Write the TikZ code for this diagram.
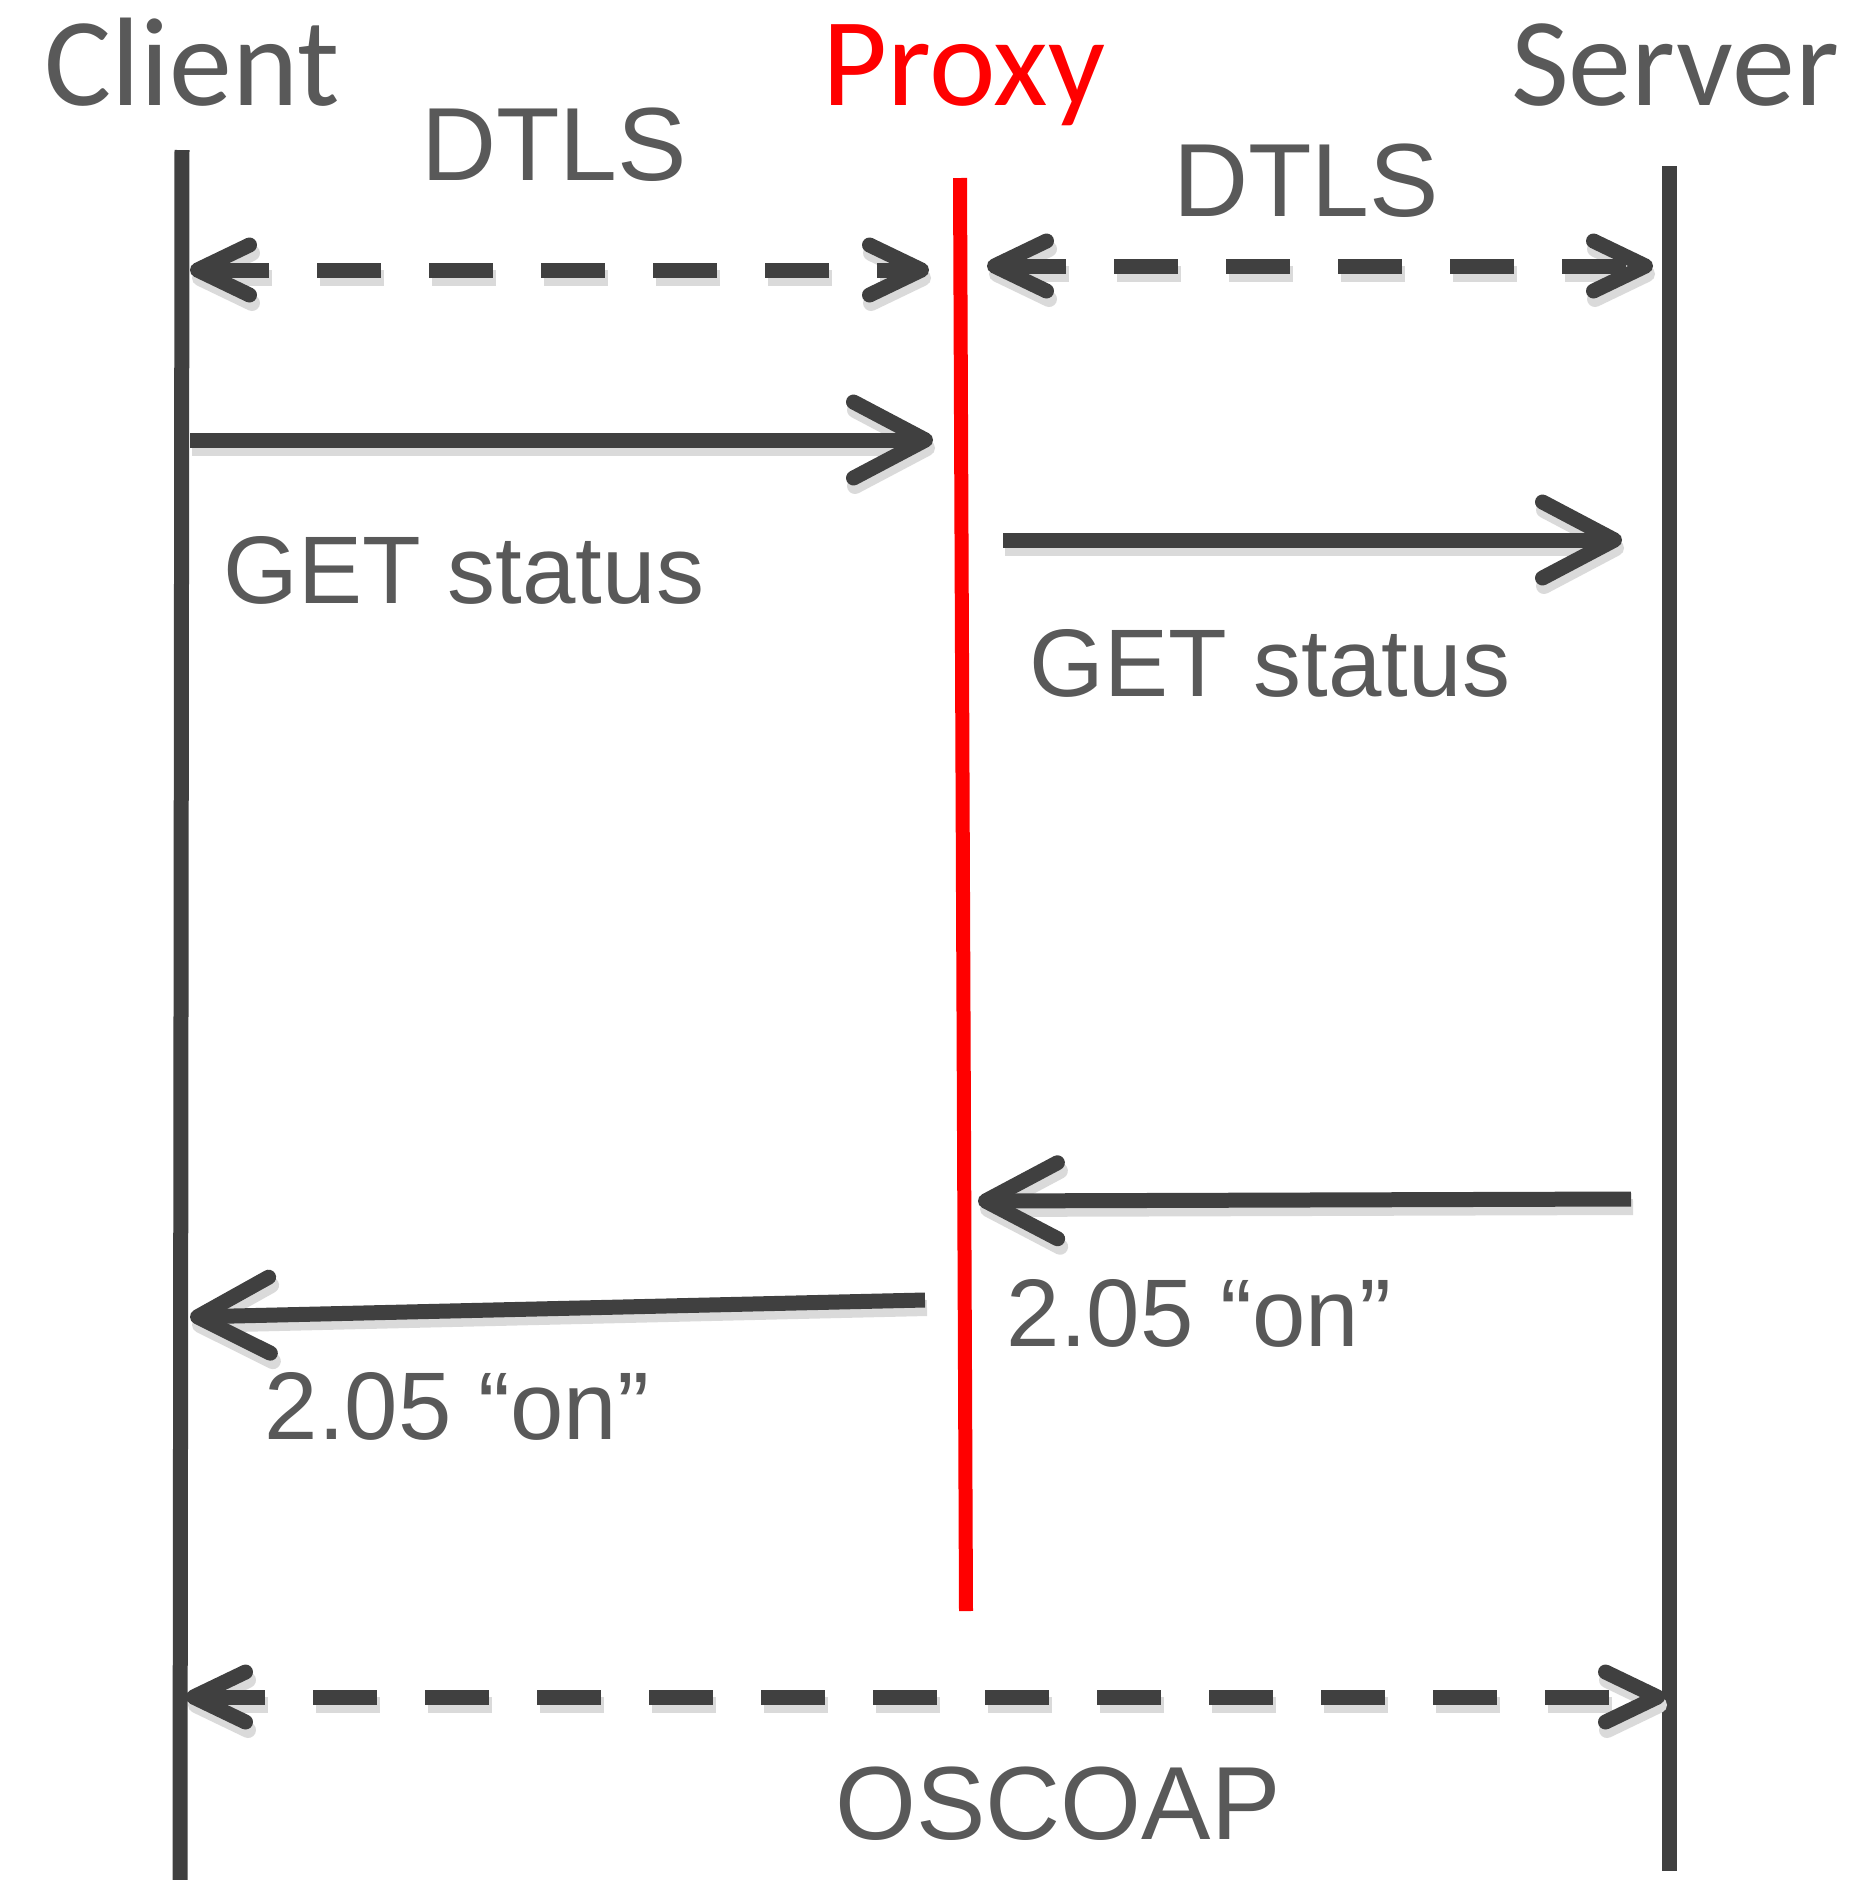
\documentclass[tikz,border=0pt]{standalone}
\usepackage{fontspec}
\setmainfont{Liberation Sans}
\newfontfamily\calib{Carlito}
\usetikzlibrary{arrows.meta}
\definecolor{lineg}{HTML}{404040}
\definecolor{textg}{HTML}{595959}
\definecolor{shad}{HTML}{DADADA}
\begin{document}
\begin{tikzpicture}[x=0.5pt,y=-0.5pt,
  lifeline/.style={line width=7.5pt, draw=lineg},
  proxyline/.style={line width=7pt, draw=red},
  shsolid/.style={preaction={draw=shad, line width=8pt, transform canvas={shift={(1pt,-4pt)}}}},
  shdash/.style={preaction={draw=shad, line width=8pt, dash pattern=on 32pt off 24pt, transform canvas={shift={(1pt,-4pt)}}}},
  msg/.style={line width=7.5pt, draw=lineg, shsolid,
    -{Straight Barb[round,length=36pt,width=38pt]}},
  dmsg/.style={line width=7.5pt, draw=lineg, shdash, dash pattern=on 32pt off 24pt,
    {Straight Barb[round,length=26pt,width=25pt]}-{Straight Barb[round,length=26pt,width=25pt]}},
  head/.style={font=\calib\fontsize{63pt}{70pt}\selectfont, text=textg, anchor=base, inner sep=0pt},
  lbl/.style={font=\fontsize{48pt}{56pt}\selectfont, text=textg, anchor=base, inner sep=0pt},
  big/.style={font=\fontsize{52pt}{60pt}\selectfont, text=textg, anchor=base, inner sep=0pt}
]
\useasboundingbox (0,0) rectangle (1865,1880);

% lifelines
\coordinate (ctop) at (182,150);
\coordinate (cbot) at (180,1880);
\coordinate (ptop) at (960,178);
\coordinate (pbot) at (966,1611);
\coordinate (stop) at (1669,166);
\coordinate (sbot) at (1669,1871);
\draw[lifeline] (ctop) -- (cbot);
\draw[proxyline] (ptop) -- (pbot);
\draw[lifeline] (stop) -- (sbot);

% headings
\node[head] (client) at (192,105) {Client};
\node[head, text=red] (proxy) at (964,105) {Proxy};
\node[head] (server) at (1675,105) {Server};

\node[big] (dtlsA) at (554,180) {DTLS};
\node[big] (dtlsB) at (1306,216) {DTLS};

% message end points
\coordinate (d1a) at (190,270);
\coordinate (d1b) at (929,270);
\coordinate (d2a) at (987,266);
\coordinate (d2b) at (1653,266);
\coordinate (g1a) at (190,440);
\coordinate (g1b) at (933,440);
\coordinate (g2a) at (1003,540);
\coordinate (g2b) at (1622,540);
\coordinate (r1a) at (1631,1199);
\coordinate (r1b) at (978,1201);
\coordinate (r2a) at (925,1300);
\coordinate (r2b) at (190,1317);
\coordinate (oa) at (186,1697);
\coordinate (ob) at (1665,1697);

\draw[dmsg] (d1a) -- (d1b);
\draw[dmsg] (d2a) -- (d2b);
\draw[msg] (g1a) -- (g1b);
\draw[msg] (g2a) -- (g2b);
\draw[msg] (r1a) -- (r1b);
\draw[msg] (r2a) -- (r2b);
\draw[dmsg] (oa) -- (ob);

% labels
\node[lbl] (get1) at (464,603) {GET status};
\node[lbl] (get2) at (1270,696) {GET status};
\node[lbl] (on1) at (1199,1346) {2.05 “on”};
\node[lbl] (on2) at (457,1439) {2.05 “on”};
\node[big] (oscoap) at (1058,1839) {OSCOAP};
\end{tikzpicture}
\end{document}
